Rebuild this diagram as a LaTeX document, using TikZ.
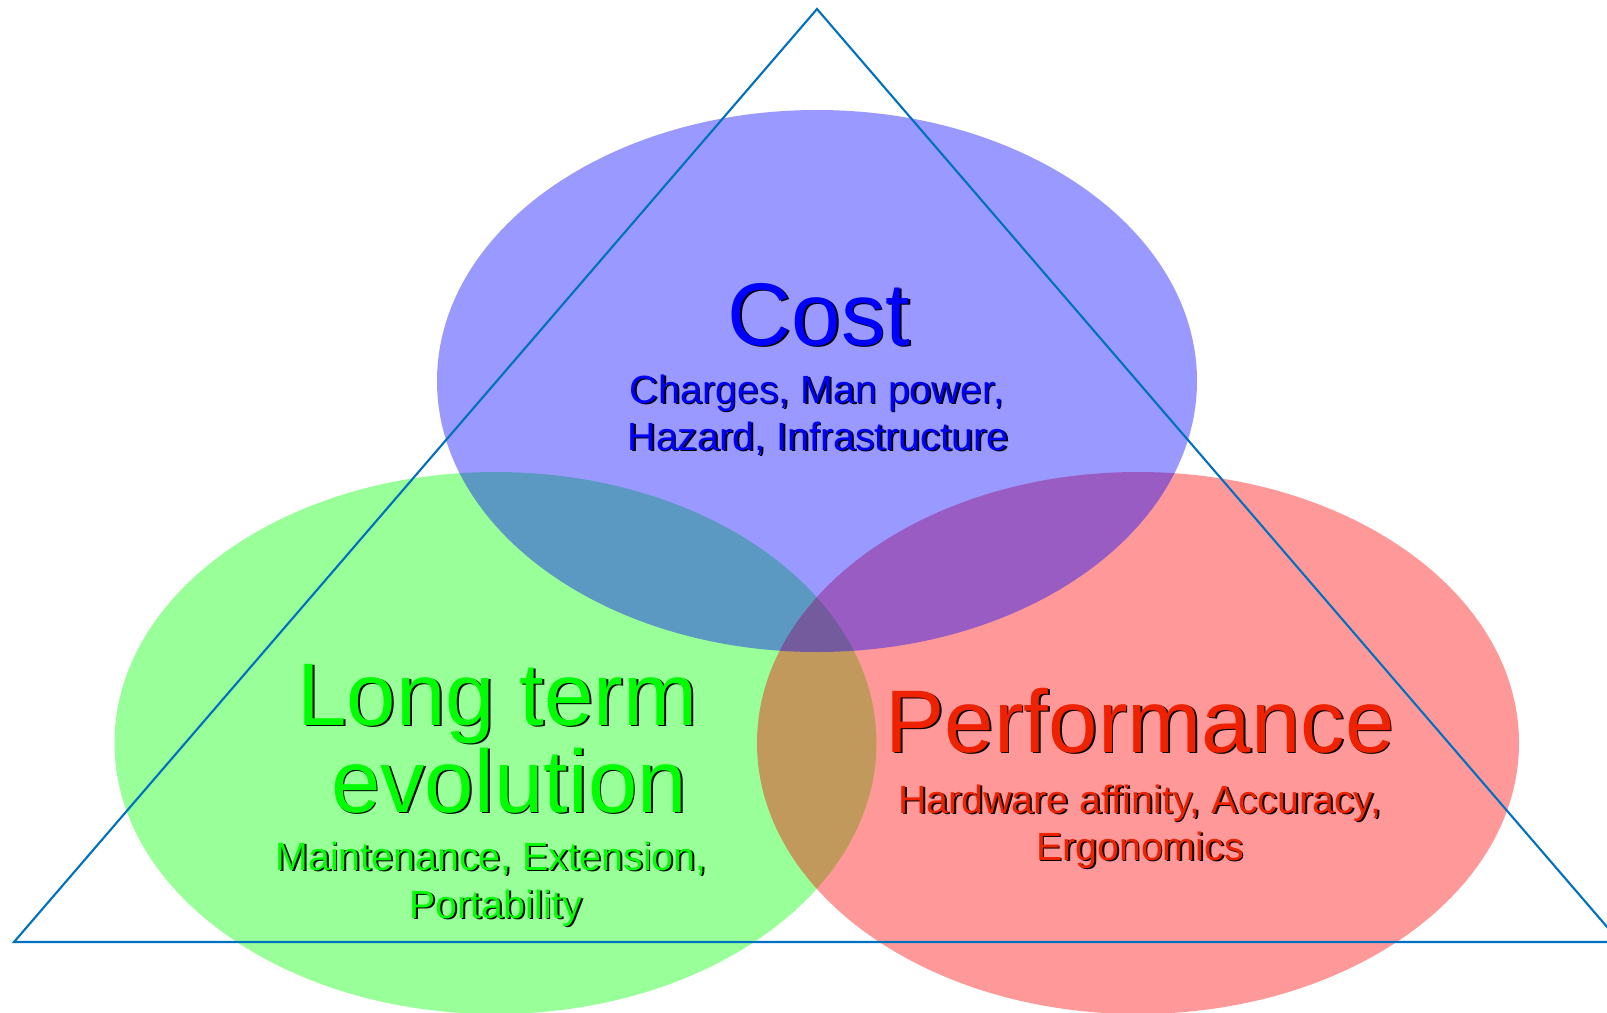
\documentclass[tikz,border=0pt]{standalone}
\usepackage{fontspec}
\setmainfont{Liberation Sans}
\definecolor{costblue}{HTML}{0000FF}
\definecolor{evolgreen}{HTML}{00FF00}
\definecolor{perfred}{HTML}{EE2200}
\definecolor{frameblue}{HTML}{0070C0}
\tikzset{
  area/.style={fill opacity=.4},
  frame/.style={draw=frameblue,line width=.6pt,line join=miter},
  title/.style={anchor=base,inner sep=0pt,font=\fontsize{25.3}{25.3}\selectfont},
  subtitle/.style={anchor=base,inner sep=0pt,font=\fontsize{11.2}{13.4}\selectfont},
  shade/.style={text=black,xshift=.5pt,yshift=-.5pt}
}
% text with a small black drop shadow: name, position, style, text
\newcommand{\shadowtext}[4]{%
  \node[#3,shade] (#1-sh) at (#2) {#4};
  \node[#3] (#1) at (#2) {#4};}

\begin{document}
\begin{tikzpicture}[x=1cm,y=1cm]
  \useasboundingbox (0,0) rectangle (16.07,10.12);
  \clip (0,0) rectangle (16.07,10.12);
  % Three overlapping areas
  \fill[area,evolgreen] (4.955,2.69) ellipse (3.81 and 2.71);
  \fill[area,red] (11.38,2.69) ellipse (3.81 and 2.71);
  \fill[area,costblue] (8.17,6.31) ellipse (3.80 and 2.71);
  % Triangle on top, right corner runs off the page
  \draw[frame] (8.17,10.03) -- (0.14,0.70) -- (16.20,0.70) -- cycle;

  % Labels
  \shadowtext{cost}{8.19,6.67}{title,text=costblue}{Cost}
  \shadowtext{costa}{8.17,6.09}{subtitle,text=costblue}{Charges, Man power,}
  \shadowtext{costb}{8.18,5.62}{subtitle,text=costblue}{Hazard, Infrastructure}

  \shadowtext{evol}{4.976,2.87}{title,text=evolgreen}{Long term}
  \shadowtext{evolb}{5.09,2.00}{title,text=evolgreen}{evolution}
  \shadowtext{evola}{4.91,1.42}{subtitle,text=evolgreen}{Maintenance, Extension,}
  \shadowtext{evolc}{4.96,0.94}{subtitle,text=evolgreen}{Portability}

  \shadowtext{perf}{11.40,2.60}{title,text=perfred}{Performance}
  \shadowtext{perfa}{11.40,1.99}{subtitle,text=perfred}{Hardware affinity, Accuracy,}
  \shadowtext{perfb}{11.40,1.52}{subtitle,text=perfred}{Ergonomics}
\end{tikzpicture}
\end{document}
